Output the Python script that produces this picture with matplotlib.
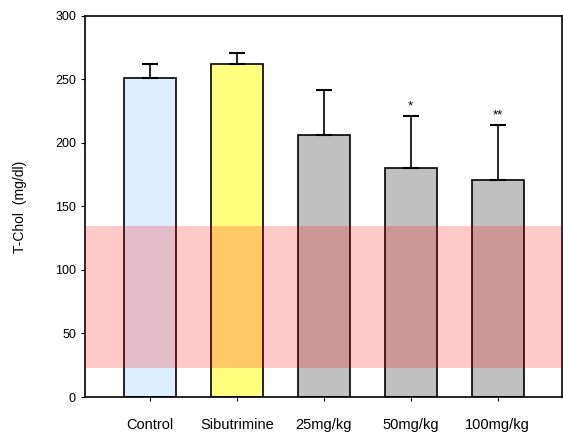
import numpy as np
import matplotlib
matplotlib.use("Agg")
import matplotlib.pyplot as plt

plt.rcParams['font.family'] = ['Liberation Sans', 'DejaVu Sans']

# T-Chol means and SD per group
groups = ['Control', 'Sibutrimine', '25mg/kg', '50mg/kg', '100mg/kg']
means = [251, 262, 206, 180, 171]
errors = [11, 9, 36, 41, 43]
marks = ['', '', '', '*', '**']
colors = ['#DDEEFF', '#FFFF80', '#C0C0C0', '#C0C0C0', '#C0C0C0']

# reference range band
band_low, band_high = 23, 135

fig = plt.figure(figsize=(5.63, 4.38), dpi=100)
ax = fig.add_axes([0.151, 0.0936, 0.847, 0.87])

x = np.arange(len(groups))
ax.bar(x, means, width=0.6, color=colors, edgecolor='black', linewidth=1.2, zorder=2)
ax.errorbar(x, means, yerr=[np.zeros(len(errors)), errors], fmt='none',
            ecolor='black', elinewidth=1.2, capsize=5.5, capthick=1.5, zorder=3)

for xi, m, e, s in zip(x, means, errors, marks):
    if s:
        ax.text(xi, m + e + 3, s, ha='center', va='bottom', fontsize=9.5)

ax.axhspan(band_low, band_high, color='red', alpha=0.21, linewidth=0, zorder=4)

ax.set_xlim(-0.75, 4.74)
ax.set_ylim(0, 300)
ax.set_yticks(np.arange(0, 301, 50))
ax.set_xticks(x)
ax.set_xticklabels(groups, fontsize=10.5)
ax.tick_params(axis='y', labelsize=9, length=3, direction='out')
ax.tick_params(axis='x', length=3, direction='out', pad=12)
ax.set_ylabel('T-Chol  (mg/dl)', fontsize=10, labelpad=20)
for sp in ax.spines.values():
    sp.set_linewidth(1.2)

fig.savefig('out.png', dpi=100)
